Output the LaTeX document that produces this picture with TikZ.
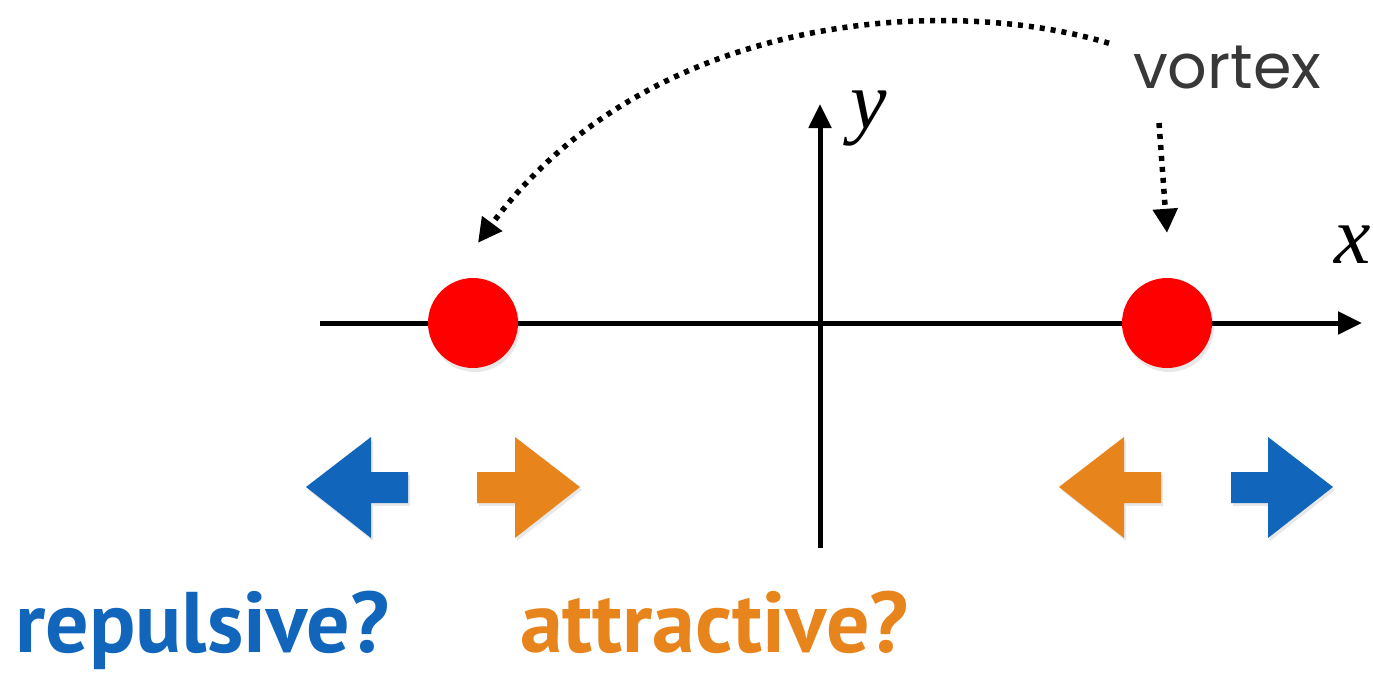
\documentclass[tikz,border=0pt]{standalone}
\usepackage{fontspec}
\usepackage{xcolor}
\usetikzlibrary{arrows.meta,shadows}
\newfontfamily\labelfont{Poppins}
\newfontfamily\questfont{PT Sans}
\newfontfamily\axisfont{Liberation Serif}
\definecolor{repblue}{HTML}{1166BB}
\definecolor{attorange}{HTML}{E8841C}
\definecolor{vtxgray}{HTML}{383838}

\begin{document}
\begin{tikzpicture}[
  x=1pt,y=-1pt,
  axis/.style={line width=5pt,-{Triangle[length=24pt,width=22pt]}},
  dotarr/.style={line width=5.5pt,dash pattern=on 5pt off 6pt,-{Triangle[length=24pt,width=24pt]}},
  vortexdot/.style={circle,fill=red,minimum size=90pt,inner sep=0pt,
    drop shadow={opacity=0.18,shadow xshift=2pt,shadow yshift=-4pt}},
  push/.style={drop shadow={opacity=0.18,shadow xshift=2pt,shadow yshift=-3pt}},
  quest/.style={inner sep=0pt,anchor=base west,font=\questfont\bfseries\fontsize{86}{90}\selectfont}
]
\useasboundingbox (0,0) rectangle (1373,673);

% axes
\coordinate (O) at (820,323);
\draw[axis] (320,323) -- (1362,323);
\draw[axis] (820,548) -- (820,104);
\node[inner sep=0pt,anchor=base west,font=\axisfont\itshape\fontsize{82}{86}\selectfont] (xlab) at (1334,263) {x};
\node[inner sep=0pt,anchor=base west,font=\axisfont\itshape\fontsize{82}{86}\selectfont] (ylab) at (850,128) {y};

% vortices
\node[vortexdot] (vl) at (473,323) {};
\node[vortexdot] (vr) at (1167,323) {};

% label and pointers
\node[inner sep=0pt,anchor=base west,text=vtxgray,font=\labelfont\fontsize{62}{66}\selectfont] (vtx) at (1133,88) {vortex};
\coordinate (vtxdrop) at (1159,123);
\draw[dotarr] ([xshift=-24pt,yshift=2pt]vtx.north west) .. controls (950,-5) and (650,10) .. ([xshift=5pt,yshift=35pt]vl.north);
\draw[dotarr] (vtxdrop) -- ([yshift=45pt]vr.north);

% push arrows
\fill[repblue,push] (306,487) -- (371,437) -- (371,472) -- (408,472) -- (408,503) -- (371,503) -- (371,538) -- cycle;
\fill[attorange,push] (580,487) -- (515,437) -- (515,472) -- (477,472) -- (477,503) -- (515,503) -- (515,538) -- cycle;
\fill[attorange,push] (1059,487) -- (1124,437) -- (1124,472) -- (1161,472) -- (1161,503) -- (1124,503) -- (1124,538) -- cycle;
\fill[repblue,push] (1333,487) -- (1268,437) -- (1268,472) -- (1231,472) -- (1231,503) -- (1268,503) -- (1268,538) -- cycle;

% questions
\node[quest,text=repblue] (rep) at (15,652) {repulsive?};
\node[quest,text=attorange] (att) at (520,652) {attractive?};
\end{tikzpicture}
\end{document}
